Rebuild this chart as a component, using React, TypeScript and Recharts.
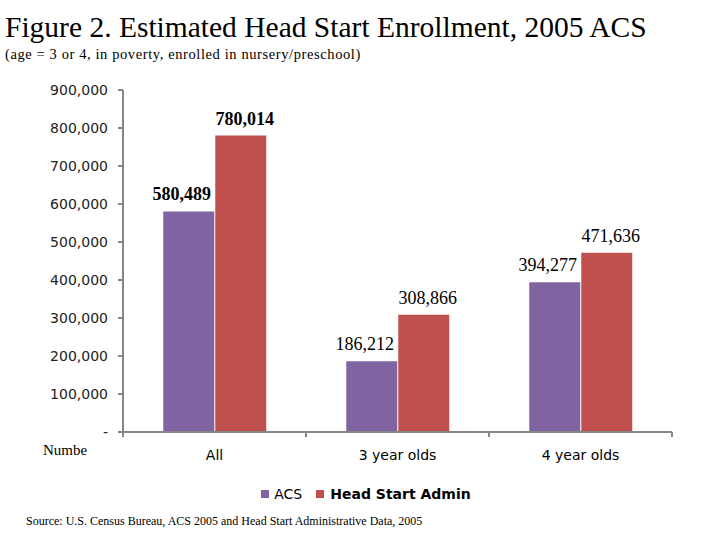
import { Bar, BarChart, LabelList, XAxis, YAxis } from "recharts"

const categories = ["All", "3 year olds", "4 year olds"]
const acs = [580489, 186212, 394277]
const headStart = [780014, 308866, 471636]
const yTicks = [0, 100000, 200000, 300000, 400000, 500000, 600000, 700000, 800000, 900000]

const data = categories.map((name, i) => ({ name, acs: acs[i], headStart: headStart[i] }))

const PURPLE = "#8064A2"
const RED = "#C0504D"
const AXIS = "#868686"

function fmt(v: number) {
  return v.toLocaleString("en-US")
}

function YTick(props: any) {
  const { x, y, payload } = props
  return (
    <text x={x} y={y} dy={5} textAnchor="end" fontFamily="DejaVu Sans" fontSize={14} fill="#222">
      {payload.value === 0 ? "-" : fmt(payload.value)}
    </text>
  )
}

function XTick(props: any) {
  const { x, y, payload, index } = props
  const half = payload.offset ?? 91.5
  return (
    <g>
      {index === 0 && <line x1={x - half} x2={x - half} y1={y} y2={y + 5} stroke={AXIS} strokeWidth={2} />}
      <line x1={x + half} x2={x + half} y1={y} y2={y + 5} stroke={AXIS} strokeWidth={2} />
      <text x={x} y={y + 28} textAnchor="middle" fontFamily="DejaVu Sans" fontSize={14} fill="#000">
        {payload.value}
      </text>
    </g>
  )
}

function makeLabel(dx: number) {
  return (props: any) => {
    const { x, y, width, value, index } = props
    return (
      <text
        x={x + width / 2 + dx}
        y={y - 11}
        textAnchor="middle"
        fontFamily="Liberation Serif"
        fontSize={18}
        fontWeight={index === 0 ? "bold" : "normal"}
        fill="#000"
      >
        {fmt(value)}
      </text>
    )
  }
}

export default function App() {
  return (
    <div style={{ position: "absolute", left: 0, top: 0, width: 720, height: 540, background: "#fff", overflow: "hidden" }}>
      <div style={{ position: "absolute", left: 5, top: 11, fontFamily: "Liberation Serif", fontSize: 29.5, whiteSpace: "nowrap" }}>
        Figure 2. Estimated Head Start Enrollment, 2005 ACS
      </div>
      <div
        style={{
          position: "absolute",
          left: 5,
          top: 46,
          fontFamily: "Liberation Serif",
          fontSize: 14.5,
          letterSpacing: 0.6,
          whiteSpace: "nowrap",
        }}
      >
        (age = 3 or 4, in poverty, enrolled in nursery/preschool)
      </div>
      <BarChart
        width={720}
        height={540}
        data={data}
        margin={{ top: 90, right: 48, bottom: 78, left: 23 }}
        barCategoryGap="22%"
        barGap={1}
      >
        <YAxis
          width={100}
          domain={[0, 900000]}
          ticks={yTicks}
          interval={0}
          tick={<YTick />}
          tickSize={5}
          tickMargin={10}
          axisLine={{ stroke: AXIS, strokeWidth: 2 }}
          tickLine={{ stroke: AXIS, strokeWidth: 2 }}
        />
        <XAxis
          dataKey="name"
          height={30}
          tick={<XTick />}
          tickSize={0}
          tickMargin={0}
          tickLine={false}
          axisLine={{ stroke: AXIS, strokeWidth: 2 }}
        />
        <Bar dataKey="acs" name="ACS" fill={PURPLE} isAnimationActive={false}>
          <LabelList dataKey="acs" content={makeLabel(-7)} />
        </Bar>
        <Bar dataKey="headStart" name="Head Start Admin" fill={RED} isAnimationActive={false}>
          <LabelList dataKey="headStart" content={makeLabel(4)} />
        </Bar>
      </BarChart>
      <div style={{ position: "absolute", left: 43, top: 442, fontFamily: "Liberation Serif", fontSize: 15 }}>Numbe</div>
      <div
        style={{
          position: "absolute",
          left: 0,
          top: 486,
          width: 732,
          display: "flex",
          justifyContent: "center",
          alignItems: "center",
          fontFamily: "DejaVu Sans",
          fontSize: 14,
        }}
      >
        <span style={{ width: 8, height: 8, background: PURPLE, marginRight: 5 }} />
        <span style={{ marginRight: 14 }}>ACS</span>
        <span style={{ width: 8, height: 8, background: RED, marginRight: 6 }} />
        <span style={{ fontWeight: 600 }}>Head Start Admin</span>
      </div>
      <div style={{ position: "absolute", left: 26, top: 514, fontFamily: "Liberation Serif", fontSize: 12, whiteSpace: "nowrap" }}>
        Source: U.S. Census Bureau, ACS 2005 and Head Start Administrative Data, 2005
      </div>
    </div>
  )
}
